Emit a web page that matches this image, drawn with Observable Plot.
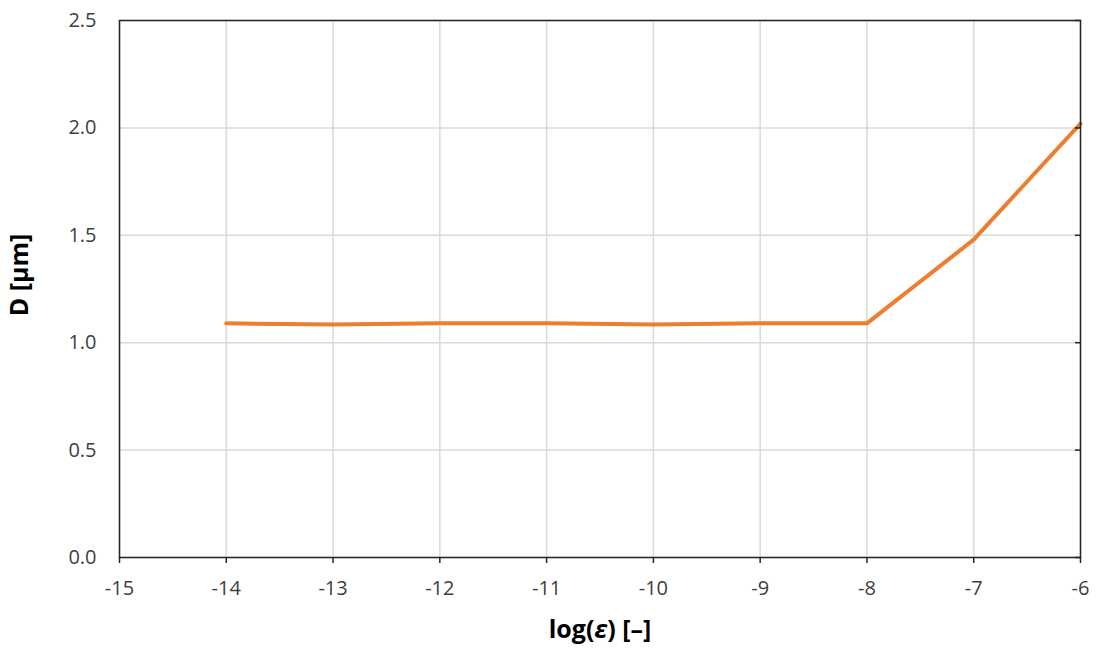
<!DOCTYPE html>
<html>
<head>
<meta charset="utf-8">
<script src="https://cdn.jsdelivr.net/npm/d3@7"></script>
<script src="https://cdn.jsdelivr.net/npm/@observablehq/plot@0.6"></script>
<style>
  html, body { margin: 0; padding: 0; background: #fff; }
  #chart svg { display: block; font-family: "Open Sans", "Liberation Sans", sans-serif; }
</style>
</head>
<body>
<div id="chart"></div>
<script>
const logEps = [-14, -13, -12, -11, -10, -9, -8, -7, -6];
const diameter = [1.09, 1.085, 1.09, 1.09, 1.085, 1.09, 1.09, 1.48, 2.02];
const xTicks = [-15, -14, -13, -12, -11, -10, -9, -8, -7, -6];
const yTicks = [0, 0.5, 1.0, 1.5, 2.0, 2.5];

const data = logEps.map((x, i) => ({x, y: diameter[i]}));

const plot = Plot.plot({
  width: 1099,
  height: 657,
  marginLeft: 119,
  marginRight: 19,
  marginTop: 20,
  marginBottom: 100,
  style: {fontFamily: "'Open Sans', 'Liberation Sans', sans-serif"},
  x: {domain: [-15, -6]},
  y: {domain: [0, 2.5]},
  marks: [
    Plot.gridX(xTicks, {stroke: "#d9d9d9", strokeOpacity: 1, strokeWidth: 1.5}),
    Plot.gridY(yTicks, {stroke: "#d9d9d9", strokeOpacity: 1, strokeWidth: 1.5}),
    Plot.line(data, {x: "x", y: "y", stroke: "#ED7D31", strokeWidth: 4}),
    Plot.frame({stroke: "#262626", strokeWidth: 1.5}),
    Plot.axisX(xTicks, {tickSize: 6, tickPadding: 17, stroke: "#262626", strokeWidth: 1.5, fill: "#404040",
      tickFormat: d => d < 0 ? "-" + Math.abs(d) : String(d),
      label: "log(ε) [–]", labelAnchor: "center", labelArrow: "none", labelOffset: 80}),
    Plot.axisY(yTicks, {tickSize: 0, tickPadding: 23, fill: "#404040", tickFormat: d => d.toFixed(1),
      label: "D [µm]", labelAnchor: "center", labelArrow: "none", labelOffset: 99}),
    Plot.axisY(yTicks, {anchor: "right", tickSize: 6, dx: -6, stroke: "#262626", strokeWidth: 1.5,
      tickFormat: () => "", label: null})
  ]
});

document.getElementById("chart").appendChild(plot);

const svg = d3.select(plot);
svg.selectAll("text").style("font-size", "20px");
svg.selectAll('g[aria-label="x-axis label"] text, g[aria-label="y-axis label"] text')
  .style("font-weight", "bold").style("font-size", "25px").style("fill", "#000");
const yl = svg.select('g[aria-label="y-axis label"]');
if (!yl.empty()) {
  const t = yl.attr("transform") || "";
  yl.attr("transform", "translate(-10,-14) " + t);
}
const xl = svg.select('g[aria-label="x-axis label"] text');
if (!xl.empty()) {
  xl.text(null);
  xl.append("tspan").text("log(");
  xl.append("tspan").style("font-style", "italic").text("ε");
  xl.append("tspan").text(") [–]");
}
</script>
</body>
</html>
